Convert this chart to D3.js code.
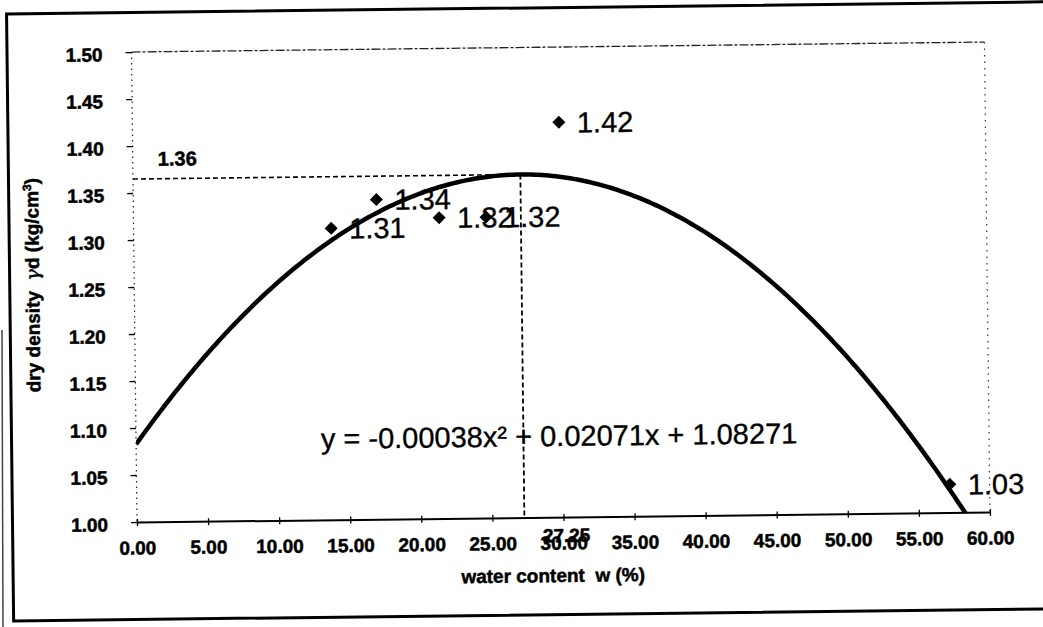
<!DOCTYPE html>
<html>
<head>
<meta charset="utf-8">
<script src="https://cdn.jsdelivr.net/npm/d3@7"></script>
<style>
  html, body { margin: 0; padding: 0; background: #fff; }
  svg { display: block; }
  text { font-family: "Liberation Sans", Arial, sans-serif; fill: #000; }
  .heavy { stroke: #000; stroke-width: 0.5px; }
  .regular { stroke: #000; stroke-width: 0.35px; }
</style>
</head>
<body>
<svg id="chart" width="1043" height="627"></svg>
<script>
// Compaction test: water content (%) vs dry density (kg/cm3)
const waterContent = [13.9, 17.1, 21.5, 24.8, 30.0, 57.2];
const dryDensity   = [1.31, 1.34, 1.32, 1.32, 1.42, 1.03];

// Second-order trendline coefficients: c0 + c1*x + c2*x^2
const trendCoef = [1.08271, 0.02071, -0.00038];
const trendLabel = "y = -0.00038x\u00B2 + 0.02071x + 1.08271";

const xTicks = [0, 5, 10, 15, 20, 25, 30, 35, 40, 45, 50, 55, 60];
const yTicks = [1.00, 1.05, 1.10, 1.15, 1.20, 1.25, 1.30, 1.35, 1.40, 1.45, 1.50];

const xTitle = "water content  w (%)";

const svg = d3.select("#chart");
const W = 1043, H = 627;
svg.append("rect").attr("width", W).attr("height", H).attr("fill", "#fff");

const plot = { left: 137, top: 52, right: 990, bottom: 522 };

// the sheet was scanned slightly tilted
const root = svg.append("g")
  .attr("transform", `rotate(-0.67, ${plot.left}, ${plot.bottom})`);

// outer chart frame
root.append("rect")
  .attr("x", 12.5).attr("y", 12.5)
  .attr("width", 1060).attr("height", 607)
  .attr("fill", "none").attr("stroke", "#000").attr("stroke-width", 3);

const x = d3.scaleLinear().domain([0, 60]).range([plot.left, plot.right]);
const y = d3.scaleLinear().domain([1.0, 1.5]).range([plot.bottom, plot.top]);

// plot-area border: dashed top, dotted right, dotted value axis
root.append("line")
  .attr("x1", plot.left).attr("x2", plot.right)
  .attr("y1", plot.top).attr("y2", plot.top)
  .attr("stroke", "#222").attr("stroke-width", 1.3)
  .attr("stroke-dasharray", "9,2,3,2");
root.append("line")
  .attr("x1", plot.right).attr("x2", plot.right)
  .attr("y1", plot.top).attr("y2", plot.bottom)
  .attr("stroke", "#333").attr("stroke-width", 1.2)
  .attr("stroke-dasharray", "1.5,5");
root.append("line")
  .attr("x1", plot.left).attr("x2", plot.left)
  .attr("y1", plot.top).attr("y2", plot.bottom)
  .attr("stroke", "#222").attr("stroke-width", 1.2)
  .attr("stroke-dasharray", "1.5,4");

// y axis
const yAxis = root.append("g")
  .attr("transform", `translate(${plot.left},0)`)
  .call(d3.axisLeft(y).tickValues(yTicks).tickSize(6).tickPadding(23)
    .tickFormat(d3.format(".2f")));
yAxis.select(".domain").remove();
yAxis.selectAll(".tick line").attr("stroke", "#000").attr("stroke-width", 1.3);
yAxis.selectAll(".tick text")
  .attr("class", "heavy")
  .attr("font-size", 19).attr("font-weight", "bold")
  .attr("font-family", "'Liberation Sans', Arial, sans-serif")
  .attr("dy", "0.45em");

// x axis
const xAxis = root.append("g")
  .attr("transform", `translate(0,${plot.bottom})`)
  .call(d3.axisBottom(x).tickValues(xTicks).tickSizeInner(4).tickSizeOuter(0)
    .tickPadding(15).tickFormat(d3.format(".2f")));
xAxis.select(".domain").attr("stroke", "#000").attr("stroke-width", 2);
xAxis.selectAll(".tick line").attr("stroke", "#000").attr("stroke-width", 1.3)
  .attr("y1", -3);
xAxis.selectAll(".tick text")
  .attr("class", "heavy")
  .attr("font-size", 19).attr("font-weight", "bold")
  .attr("font-family", "'Liberation Sans', Arial, sans-serif");

// axis titles
root.append("text")
  .attr("class", "heavy")
  .attr("x", (plot.left + plot.right) / 2 - 11)
  .attr("y", 587)
  .attr("text-anchor", "middle")
  .attr("font-size", 19).attr("font-weight", "bold")
  .style("white-space", "pre")
  .text(xTitle);

const yTitle = root.append("text")
  .attr("class", "heavy")
  .attr("transform", "translate(42,284) rotate(-90)")
  .attr("text-anchor", "middle")
  .attr("font-size", 19).attr("font-weight", "bold")
  .style("white-space", "pre");
yTitle.append("tspan").text("dry density  ");
yTitle.append("tspan").attr("font-family", "'DejaVu Serif', serif")
  .attr("font-style", "italic").attr("font-weight", "normal").text("\u03B3");
yTitle.append("tspan").text("d (kg/cm");
yTitle.append("tspan").attr("font-size", 12).attr("dy", -7).text("3");
yTitle.append("tspan").attr("dy", 7).text(")");

// trendline from the fitted polynomial
const poly = w => trendCoef[0] + trendCoef[1] * w + trendCoef[2] * w * w;
root.append("clipPath").attr("id", "plotClip")
  .append("rect")
  .attr("x", plot.left).attr("y", plot.top)
  .attr("width", plot.right - plot.left).attr("height", plot.bottom - plot.top);

const curveX = d3.range(0, 60.01, 0.25);
root.append("path")
  .datum(curveX)
  .attr("clip-path", "url(#plotClip)")
  .attr("fill", "none").attr("stroke", "#000").attr("stroke-width", 4.5)
  .attr("stroke-linejoin", "round")
  .attr("d", d3.line().x(d => x(d)).y(d => y(poly(d))));

// optimum water content and maximum dry density (vertex of the fit)
const wOpt = -trendCoef[1] / (2 * trendCoef[2]);
const dMax = poly(wOpt);

root.append("line")
  .attr("x1", x(0)).attr("x2", x(wOpt))
  .attr("y1", y(dMax)).attr("y2", y(dMax))
  .attr("stroke", "#000").attr("stroke-width", 1.6)
  .attr("stroke-dasharray", "5,3");

root.append("text")
  .attr("class", "heavy")
  .attr("x", x(0) + 25).attr("y", y(dMax) - 13)
  .attr("font-size", 20).attr("font-weight", "bold")
  .text(d3.format(".2f")(dMax));

root.append("text")
  .attr("class", "heavy")
  .attr("x", x(wOpt) + 42).attr("y", plot.bottom + 25)
  .attr("text-anchor", "middle")
  .attr("font-size", 19).attr("font-weight", "bold")
  .text(d3.format(".2f")(wOpt));

// trendline equation
root.append("text")
  .attr("class", "regular")
  .attr("x", x(13.0)).attr("y", 451)
  .attr("font-size", 29)
  .text(trendLabel);

// data points with value labels
const points = waterContent.map((w, i) => ({ w, d: dryDensity[i] }));
const diamond = d3.symbol().type(d3.symbolSquare).size(85);

root.append("g").selectAll("text")
  .data(points).join("text")
  .attr("class", "regular")
  .attr("x", p => x(p.w) + 18)
  .attr("y", p => y(p.d))
  .attr("dy", "0.36em")
  .attr("font-size", 29)
  .text(p => d3.format(".2f")(p.d));

root.append("g").selectAll("path")
  .data(points).join("path")
  .attr("d", diamond)
  .attr("transform", p => `translate(${x(p.w)},${y(p.d)}) rotate(45)`)
  .attr("fill", "#000");

root.append("line")
  .attr("x1", x(wOpt)).attr("x2", x(wOpt))
  .attr("y1", y(dMax)).attr("y2", plot.bottom)
  .attr("stroke", "#000").attr("stroke-width", 1.8)
  .attr("stroke-dasharray", "5,3");

// edge of the neighbouring frame along the left margin
svg.append("line")
  .attr("x1", 2).attr("y1", 330).attr("x2", 3).attr("y2", 627)
  .attr("stroke", "#444").attr("stroke-width", 1.5);
</script>
</body>
</html>
